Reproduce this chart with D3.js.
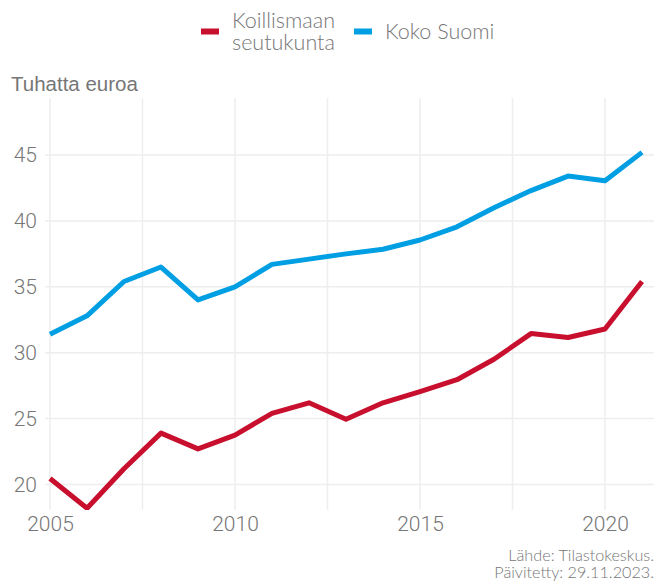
<!doctype html>
<html lang="fi">
<head>
<meta charset="utf-8">
<script src="https://d3js.org/d3.v7.min.js"></script>
<style>
  body { margin: 0; background: #fff; }
  svg { display: block; }
</style>
</head>
<body>
<script>
// years and values (tuhatta euroa)
var years = [2005, 2006, 2007, 2008, 2009, 2010, 2011, 2012, 2013,
             2014, 2015, 2016, 2017, 2018, 2019, 2020, 2021];
var koillismaa = [20.45, 18.2, 21.2, 23.9, 22.7, 23.75, 25.4, 26.2, 24.95,
                  26.2, 27.05, 27.95, 29.5, 31.45, 31.15, 31.8, 35.4];
var kokoSuomi = [31.4, 32.8, 35.4, 36.5, 34.0, 35.0, 36.7, 37.1, 37.5,
                 37.85, 38.55, 39.55, 41.0, 42.3, 43.4, 43.05, 45.2];
var seriesNames = ["Koillismaan\nseutukunta", "Koko Suomi"];
var seriesColors = ["#c8102e", "#009fe3"];
var xTicks = [2005, 2010, 2015, 2020];
var xGrid = [2005, 2007.5, 2010, 2012.5, 2015, 2017.5, 2020];
var yTicks = [20, 25, 30, 35, 40, 45];

(function() {
  var W = 654, H = 583;
  var svg = d3.select("body").append("svg").attr("width", W).attr("height", H);

  var x = d3.scaleLinear().domain([2005, 2020]).range([50, 605]);
  var y = d3.scaleLinear().domain([20, 45]).range([484.5, 155]);
  var plotTop = 98, plotBottom = 510, plotLeft = 45, plotRight = 654;

  var grey = "#767676";

  // gridlines
  svg.append("g").selectAll("line").data(yTicks).join("line")
    .attr("x1", plotLeft).attr("x2", plotRight)
    .attr("y1", d => y(d)).attr("y2", d => y(d))
    .attr("stroke", "#eeeeee").attr("stroke-width", 1.5);
  svg.append("g").selectAll("line").data(xGrid).join("line")
    .attr("x1", d => x(d)).attr("x2", d => x(d))
    .attr("y1", plotTop).attr("y2", plotBottom)
    .attr("stroke", "#eeeeee").attr("stroke-width", 1.5);

  // axis labels
  var yAxis = svg.append("g").attr("transform", "translate(" + plotLeft + ",0)")
    .call(d3.axisLeft(y).tickValues(yTicks).tickSize(0).tickPadding(8));
  var xAxis = svg.append("g").attr("transform", "translate(0," + plotBottom + ")")
    .call(d3.axisBottom(x).tickValues(xTicks).tickSize(0).tickPadding(6).tickFormat(d3.format("d")));
  [yAxis, xAxis].forEach(function(g) {
    g.select(".domain").remove();
    g.selectAll("text").attr("fill", grey)
      .style("font-family", "Roboto").style("font-weight", 300).style("font-size", "21px");
  });

  // lines
  svg.append("defs").append("clipPath").attr("id", "clip")
    .append("rect").attr("x", plotLeft).attr("y", plotTop)
    .attr("width", plotRight - plotLeft).attr("height", plotBottom - plotTop);

  var line = d3.line().x((d, i) => x(years[i])).y(d => y(d));
  [koillismaa, kokoSuomi].forEach(function(vals, i) {
    svg.append("path")
      .datum(vals)
      .attr("clip-path", "url(#clip)")
      .attr("fill", "none")
      .attr("stroke", seriesColors[i])
      .attr("stroke-width", 5)
      .attr("stroke-linejoin", "round")
      .attr("d", line);
  });

  // y title
  svg.append("text").attr("x", 11).attr("y", 91)
    .attr("fill", grey)
    .style("font-family", "Liberation Sans").style("font-size", "20.5px")
    .text("Tuhatta euroa");

  // legend
  var legendX = [201, 354];
  var legend = svg.append("g")
    .style("font-family", "Lato").style("font-weight", 300).style("font-size", "21.5px");
  seriesNames.forEach(function(name, i) {
    legend.append("rect").attr("x", legendX[i]).attr("y", 28.5)
      .attr("width", 18).attr("height", 6).attr("fill", seriesColors[i]);
    var parts = name.split("\n");
    var t = legend.append("text").attr("fill", grey);
    parts.forEach(function(p, j) {
      t.append("tspan").attr("x", legendX[i] + 31)
        .attr("y", parts.length > 1 ? 28 + j * 22 : 39).text(p);
    });
  });

  // caption
  var cap = svg.append("text").attr("text-anchor", "end").attr("fill", grey)
    .style("font-family", "Lato").style("font-weight", 300).style("font-size", "16.2px");
  cap.append("tspan").attr("x", 654).attr("y", 561).text("Lähde: Tilastokeskus.");
  cap.append("tspan").attr("x", 654).attr("y", 578).text("Päivitetty: 29.11.2023.");
})();
</script>
</body>
</html>
